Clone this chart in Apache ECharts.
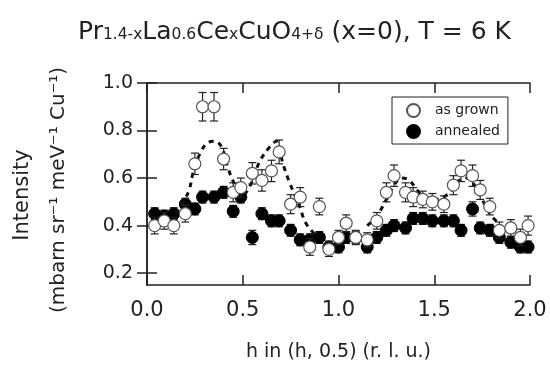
<!DOCTYPE html>
<html>
<head>
<meta charset="utf-8">
<script src="https://cdn.jsdelivr.net/npm/echarts@6/dist/echarts.min.js"></script>
<style>
  html, body { margin: 0; padding: 0; background: #fff; }
  #chart { width: 550px; height: 367px; }
</style>
</head>
<body>
<div id="chart"></div>
<script>
// h positions (r.l.u.) shared by both data sets
const hValues = [0.04, 0.09, 0.14, 0.20, 0.25, 0.29, 0.35, 0.40, 0.45, 0.49,
  0.55, 0.60, 0.65, 0.69, 0.75, 0.80, 0.85, 0.90, 0.95, 1.00,
  1.04, 1.09, 1.15, 1.20, 1.25, 1.29, 1.35, 1.39, 1.44, 1.49,
  1.55, 1.60, 1.64, 1.70, 1.74, 1.79, 1.84, 1.90, 1.95, 1.99];

// as grown (open circles)
const grownValues = [0.40, 0.42, 0.40, 0.45, 0.66, 0.90, 0.90, 0.68, 0.54, 0.56,
  0.62, 0.59, 0.63, 0.71, 0.49, 0.52, 0.31, 0.48, 0.30, 0.35,
  0.41, 0.35, 0.34, 0.42, 0.54, 0.61, 0.54, 0.52, 0.51, 0.50,
  0.49, 0.57, 0.63, 0.61, 0.55, 0.48, 0.38, 0.39, 0.35, 0.40];
const grownErr = [0.035, 0.035, 0.035, 0.035, 0.045, 0.06, 0.06, 0.045, 0.04, 0.04,
  0.045, 0.045, 0.045, 0.05, 0.04, 0.04, 0.035, 0.035, 0.03, 0.03,
  0.035, 0.03, 0.03, 0.035, 0.04, 0.045, 0.04, 0.04, 0.035, 0.035,
  0.035, 0.04, 0.045, 0.045, 0.04, 0.035, 0.035, 0.035, 0.035, 0.04];

// annealed (filled circles)
const annealedValues = [0.45, 0.44, 0.45, 0.49, 0.47, 0.52, 0.52, 0.54, 0.46, 0.52,
  0.35, 0.45, 0.42, 0.42, 0.38, 0.34, 0.34, 0.35, 0.31, 0.31,
  0.35, 0.35, 0.31, 0.35, 0.38, 0.40, 0.39, 0.43, 0.43, 0.42,
  0.42, 0.42, 0.38, 0.47, 0.39, 0.38, 0.35, 0.33, 0.31, 0.31];
const annealedErr = [0.025, 0.025, 0.025, 0.025, 0.025, 0.025, 0.025, 0.025, 0.025, 0.025,
  0.03, 0.025, 0.025, 0.025, 0.025, 0.025, 0.025, 0.025, 0.025, 0.025,
  0.025, 0.025, 0.025, 0.025, 0.025, 0.025, 0.025, 0.025, 0.025, 0.025,
  0.025, 0.025, 0.025, 0.03, 0.025, 0.025, 0.025, 0.025, 0.025, 0.025];

// dashed model curves
const fitLeftH = [0.15, 0.19, 0.22, 0.24, 0.275, 0.32, 0.354, 0.39, 0.42, 0.46,
  0.50, 0.54, 0.589, 0.64, 0.676, 0.71, 0.745, 0.79, 0.83, 0.88];
const fitLeftV = [0.45, 0.50, 0.55, 0.62, 0.70, 0.75, 0.755, 0.73, 0.65, 0.57,
  0.53, 0.57, 0.67, 0.73, 0.755, 0.66, 0.58, 0.495, 0.41, 0.36];
const fitRightH = [1.15, 1.20, 1.25, 1.29, 1.33, 1.37, 1.41, 1.45, 1.50, 1.55,
  1.59, 1.63, 1.67, 1.71, 1.75, 1.80, 1.85];
const fitRightV = [0.40, 0.44, 0.51, 0.57, 0.60, 0.59, 0.55, 0.52, 0.51, 0.52,
  0.55, 0.59, 0.60, 0.57, 0.51, 0.44, 0.40];

const yTicks = [0.2, 0.4, 0.6, 0.8, 1.0];

const FONT = 'DejaVu Sans';
const chart = echarts.init(document.getElementById('chart'), null, { renderer: 'canvas' });

const pts = (xs, ys) => xs.map((x, i) => [x, ys[i]]);
const bars = (xs, ys, es) => xs.map((x, i) => [x, ys[i] - es[i], ys[i] + es[i]]);

// vertical error bar with caps
function errorBar(params, api) {
  const x = api.value(0);
  const lo = api.coord([x, api.value(1)]);
  const hi = api.coord([x, api.value(2)]);
  const w = 4;
  const st = { stroke: '#222', lineWidth: 1.2 };
  return {
    type: 'group',
    children: [
      { type: 'line', shape: { x1: lo[0], y1: lo[1], x2: hi[0], y2: hi[1] }, style: st },
      { type: 'line', shape: { x1: lo[0] - w, y1: lo[1], x2: lo[0] + w, y2: lo[1] }, style: st },
      { type: 'line', shape: { x1: hi[0] - w, y1: hi[1], x2: hi[0] + w, y2: hi[1] }, style: st }
    ]
  };
}

const axisLine = { lineStyle: { color: '#222', width: 1.5 } };
const tick = { inside: true, length: 10, lineStyle: { color: '#222', width: 1.5 } };

const option = {
  animation: false,
  backgroundColor: '#fff',
  title: {
    left: 73,
    top: 10,
    text: '{m|Pr}{s|1.4-x}{m|La}{s|0.6}{m|Ce}{s|x}{m|CuO}{s|4+δ}{m| (x=0), T = 6 K}',
    textStyle: {
      fontWeight: 'normal',
      rich: {
        m: { fontFamily: FONT, fontSize: 25, fontWeight: 'normal', color: '#222', lineHeight: 30, verticalAlign: 'bottom' },
        s: { fontFamily: FONT, fontSize: 15.5, fontWeight: 'normal', color: '#222', lineHeight: 30, verticalAlign: 'bottom', padding: [0, 0, 2, 0] }
      }
    }
  },
  legend: {
    left: 392,
    top: 97,
    orient: 'vertical',
    data: ['as grown', 'annealed'],
    itemWidth: 13,
    itemHeight: 13,
    itemGap: 6,
    padding: [6, 8, 5, 14],
    borderColor: '#222',
    borderWidth: 1,
    textStyle: { fontFamily: FONT, fontSize: 14, color: '#222', padding: [0, 0, 0, 10] }
  },
  grid: { left: 147, right: 20, top: 83, bottom: 82 },
  xAxis: [{
    type: 'value', min: 0, max: 2, interval: 0.5, position: 'bottom',
    axisLine: axisLine, axisTick: tick, splitLine: { show: false },
    axisLabel: { margin: 15, fontFamily: FONT, fontSize: 21, color: '#222', formatter: v => v.toFixed(1) },
    name: 'h in (h, 0.5) (r. l. u.)', nameLocation: 'middle', nameGap: 58,
    nameTextStyle: { fontFamily: FONT, fontSize: 19, color: '#222' }
  }, {
    type: 'value', min: 0, max: 2, interval: 0.5, position: 'top',
    axisLine: axisLine, axisTick: tick, splitLine: { show: false }, axisLabel: { show: false }
  }],
  yAxis: [{
    type: 'value', min: 0.15, max: 1.0, position: 'left',
    axisLine: axisLine, axisTick: Object.assign({ customValues: yTicks }, tick), splitLine: { show: false },
    axisLabel: { customValues: yTicks, margin: 14, fontFamily: FONT, fontSize: 19, color: '#222', formatter: v => v.toFixed(1) }
  }, {
    type: 'value', min: 0.15, max: 1.0, position: 'right',
    axisLine: axisLine, axisTick: Object.assign({ customValues: yTicks }, tick), splitLine: { show: false },
    axisLabel: { show: false }
  }],
  graphic: [{
    type: 'text', x: 23, y: 195, rotation: Math.PI / 2,
    style: { text: 'Intensity', fontFamily: FONT, fontSize: 21, fill: '#222', align: 'center', verticalAlign: 'middle' }
  }, {
    type: 'text', x: 59, y: 190, rotation: Math.PI / 2,
    style: { text: '(mbarn sr⁻¹ meV⁻¹ Cu⁻¹)', fontFamily: FONT, fontSize: 20, fill: '#222', align: 'center', verticalAlign: 'middle' }
  }],
  series: [
    {
      name: 'annealed err', type: 'custom', renderItem: errorBar, z: 2,
      data: bars(hValues, annealedValues, annealedErr)
    },
    {
      name: 'annealed', type: 'scatter', symbol: 'circle', symbolSize: 12, z: 3,
      itemStyle: { color: '#000', borderColor: '#000', borderWidth: 1, opacity: 1 },
      data: pts(hValues, annealedValues)
    },
    {
      name: 'fit left', type: 'line', smooth: 0.4, showSymbol: false, z: 4,
      lineStyle: { color: '#111', width: 3, type: [5, 5] },
      data: pts(fitLeftH, fitLeftV)
    },
    {
      name: 'fit right', type: 'line', smooth: 0.4, showSymbol: false, z: 4,
      lineStyle: { color: '#111', width: 3, type: [5, 5] },
      data: pts(fitRightH, fitRightV)
    },
    {
      name: 'grown err', type: 'custom', renderItem: errorBar, z: 5,
      data: bars(hValues, grownValues, grownErr)
    },
    {
      name: 'as grown', type: 'scatter', symbol: 'circle', symbolSize: 12, z: 6,
      itemStyle: { color: '#fff', borderColor: '#555', borderWidth: 1.2, opacity: 1 },
      data: pts(hValues, grownValues)
    }
  ]
};

chart.setOption(option);
</script>
</body>
</html>
